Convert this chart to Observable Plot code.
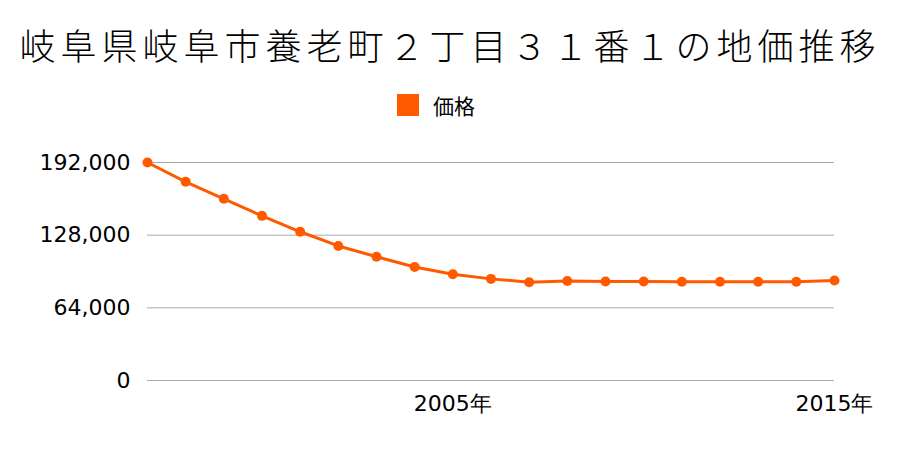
<!DOCTYPE html>
<html>
<head>
<meta charset="utf-8">
<script src="https://cdn.jsdelivr.net/npm/d3@7"></script>
<script src="https://cdn.jsdelivr.net/npm/@observablehq/plot@0.6"></script>
<style>
  body { margin: 0; background: #fff; width: 900px; height: 450px; position: relative; overflow: hidden; }
  #title { position: absolute; left: 0; top: 0; width: 900px; height: 88px; line-height: 88px; text-align: center;
           font-family: "Noto Sans CJK JP", sans-serif; font-size: 36px; font-weight: 300; letter-spacing: 5px; color: #000; white-space: nowrap; }
  #legend { position: absolute; left: 397px; top: 84px; height: 42px; display: flex; align-items: center;
            font-family: "Noto Sans CJK JP", sans-serif; font-size: 21px; color: #000; }
  #legend .sw { width: 22px; height: 22px; background: #ff5a00; margin-right: 14px; }
  #chart { position: absolute; left: 0; top: 130px; }
</style>
</head>
<body>
<div id="title">岐阜県岐阜市養老町２丁目３１番１の地価推移</div>
<div id="legend"><div class="sw"></div><span>価格</span></div>
<div id="chart"></div>
<script>
const years = [1997, 1998, 1999, 2000, 2001, 2002, 2003, 2004, 2005, 2006, 2007, 2008, 2009, 2010, 2011, 2012, 2013, 2014, 2015];
const prices = [192000, 175000, 160000, 145000, 131000, 118500, 109000, 100000, 93600, 89500, 86600, 87700, 87200, 87200, 87000, 87000, 87000, 87000, 88100];
const yTicks = [0, 64000, 128000, 192000];
const xTicks = [2005, 2015];
const seriesName = "価格";
const color = "#ff5a00";

const data = years.map((y, i) => ({year: y, price: prices[i], series: seriesName}));

const chart = Plot.plot({
  width: 900,
  height: 320,
  marginLeft: 147,
  marginRight: 66,
  marginTop: 32,
  marginBottom: 70,
  style: {fontFamily: "'DejaVu Sans', sans-serif", fontSize: "22px", color: "#000", background: "transparent"},
  x: {domain: [1997, 2015]},
  y: {domain: [0, 192000]},
  marks: [
    Plot.gridY(yTicks, {stroke: "#aaa", strokeOpacity: 1, strokeWidth: 1}),
    Plot.axisY(yTicks, {tickSize: 0, tickPadding: 17, tickFormat: d3.format(","), fontSize: 22, fill: "#000", label: null}),
    Plot.axisX(xTicks, {tickSize: 0, tickPadding: 15, tickFormat: d => d + "年", fontSize: 22, fill: "#000", label: null}),
    Plot.line(data, {x: "year", y: "price", stroke: color, strokeWidth: 3}),
    Plot.dot(data, {x: "year", y: "price", r: 5, fill: color, stroke: "none"})
  ]
});
document.getElementById("chart").appendChild(chart);
</script>
</body>
</html>
